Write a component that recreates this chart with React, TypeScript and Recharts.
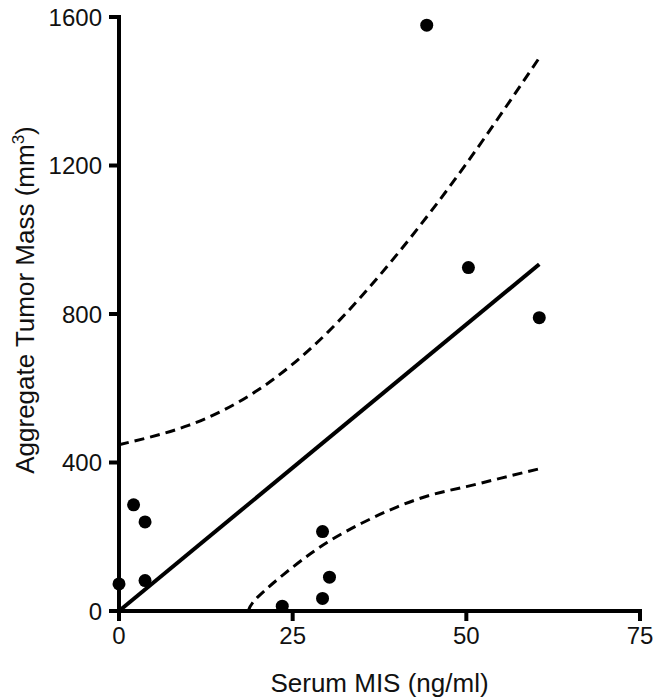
import React from 'react';
import { ComposedChart, Line, Scatter, XAxis, YAxis } from 'recharts';

// measured points (serum MIS vs aggregate tumor mass)
const misValues = [0, 2.1, 3.75, 3.75, 23.5, 29.3, 29.3, 30.3, 44.3, 50.3, 60.5];
const massValues = [73, 286, 240, 82, 13, 34, 214, 91, 1578, 925, 790];

// linear fit
const fitX = [0, 60.5];
const fitY = [0, 934];

// 95% confidence bands
const upperX = [0, 10, 20, 30, 40, 50, 60.5];
const upperY = [448, 500, 595, 750, 960, 1205, 1490];
const lowerX = [18.6, 20, 25, 30, 35, 40, 45, 50, 55, 60.5];
const lowerY = [0, 38, 118, 185, 237, 280, 313, 335, 358, 383];

const xTicks = [0, 25, 50, 75];
const yTicks = [0, 400, 800, 1200, 1600];

const zip = (xs: number[], ys: number[]) => xs.map((x, i) => ({ x, y: ys[i] }));

const points = zip(misValues, massValues);
const fitLine = zip(fitX, fitY);
const upperBand = zip(upperX, upperY);
const lowerBand = zip(lowerX, lowerY);

const font = 'Arial, "Liberation Sans", Helvetica, sans-serif';
const tickStyle = { fontSize: 24, fill: '#111', fontFamily: font };

const Dot = (props: any) => <circle cx={props.cx} cy={props.cy} r={6.5} fill="#000" />;

const YTitle = () => (
    <text
        x={34}
        y={300}
        transform="rotate(-90, 34, 300)"
        textAnchor="middle"
        fontSize={26}
        fontFamily={font}
        fill="#111"
    >
        Aggregate Tumor Mass (mm
        <tspan dy={-10} fontSize={17}>3</tspan>
        <tspan dy={10}>)</tspan>
    </text>
);

export default function App() {
    return (
        <div style={{ position: 'absolute', left: 0, top: 0, background: '#fff' }}>
            <ComposedChart width={664} height={700} margin={{ top: 17, right: 24, bottom: 0, left: 0 }}>
                <XAxis
                    type="number"
                    dataKey="x"
                    domain={[0, 75]}
                    ticks={xTicks}
                    height={89}
                    tickSize={10}
                    tickMargin={6}
                    tick={tickStyle}
                    axisLine={{ stroke: '#000', strokeWidth: 4, strokeLinecap: 'square' }}
                    tickLine={{ stroke: '#000', strokeWidth: 4 }}
                    label={{
                        value: 'Serum MIS (ng/ml)',
                        position: 'insideBottom',
                        offset: 8,
                        style: { fontSize: 26, fill: '#111', fontFamily: font },
                    }}
                />
                <YAxis
                    type="number"
                    dataKey="y"
                    domain={[0, 1600]}
                    ticks={yTicks}
                    width={119}
                    tickSize={10}
                    tickMargin={7}
                    tick={tickStyle}
                    axisLine={{ stroke: '#000', strokeWidth: 4, strokeLinecap: 'square' }}
                    tickLine={{ stroke: '#000', strokeWidth: 4 }}
                    label={{ content: () => <YTitle /> }}
                />
                <Line
                    data={upperBand}
                    dataKey="y"
                    type="natural"
                    stroke="#000"
                    strokeWidth={3}
                    strokeDasharray="10 6"
                    dot={false}
                    activeDot={false}
                    isAnimationActive={false}
                />
                <Line
                    data={lowerBand}
                    dataKey="y"
                    type="natural"
                    stroke="#000"
                    strokeWidth={3}
                    strokeDasharray="10 6"
                    dot={false}
                    activeDot={false}
                    isAnimationActive={false}
                />
                <Line
                    data={fitLine}
                    dataKey="y"
                    type="linear"
                    stroke="#000"
                    strokeWidth={4}
                    dot={false}
                    activeDot={false}
                    isAnimationActive={false}
                />
                <Scatter data={points} dataKey="y" shape={Dot} isAnimationActive={false} />
            </ComposedChart>
        </div>
    );
}
